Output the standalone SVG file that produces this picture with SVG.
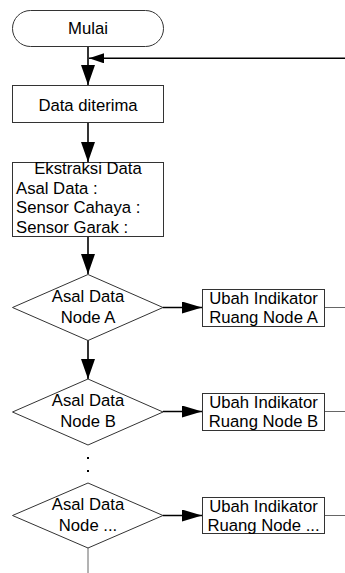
<svg xmlns="http://www.w3.org/2000/svg" width="345" height="573" viewBox="0 0 345 573">
<style>
.shape{fill:#fff;stroke:#333;stroke-width:1}
.t{font-family:"Liberation Sans",Arial,sans-serif;font-size:16.7px;fill:#000}
.c{text-anchor:middle}
.arr{stroke:#000;stroke-width:1.6;fill:none}
.gl{stroke:#666;stroke-width:1;fill:none}
</style>
<defs>
<marker id="ah" viewBox="0 0 20 14" refX="20" refY="7" markerWidth="20" markerHeight="14" markerUnits="userSpaceOnUse" orient="auto">
<path d="M0,0 L20,7 L0,14 z" fill="#000"/>
</marker>
<marker id="ah2" viewBox="0 0 20 12" refX="20" refY="6" markerWidth="20" markerHeight="12" markerUnits="userSpaceOnUse" orient="auto">
<path d="M0,0 L20,6 L0,12 z" fill="#000"/>
</marker>
<marker id="ah3" viewBox="0 0 15 10" refX="15" refY="5" markerWidth="15" markerHeight="10" markerUnits="userSpaceOnUse" orient="auto">
<path d="M0,0 L15,5 L0,10 z" fill="#000"/>
</marker>
</defs>
<g id="connectors">
<line class="arr" x1="88" y1="46.5" x2="88" y2="85" marker-end="url(#ah)"/>
<line class="arr" x1="345" y1="58.3" x2="89" y2="58.3" marker-end="url(#ah3)"/>
<line class="arr" x1="88" y1="122.5" x2="88" y2="162" marker-end="url(#ah)"/>
<line class="arr" x1="88" y1="236.5" x2="88" y2="274" marker-end="url(#ah)"/>
<line class="arr" x1="163" y1="307.5" x2="202" y2="307.5" marker-end="url(#ah2)"/>
<line class="gl" x1="324.5" y1="307.5" x2="345" y2="307.5"/>
<line class="arr" x1="88" y1="340" x2="88" y2="379" marker-end="url(#ah)"/>
<line class="arr" x1="163" y1="411.5" x2="202" y2="411.5" marker-end="url(#ah2)"/>
<line class="gl" x1="324.5" y1="411.5" x2="345" y2="411.5"/>
<line class="arr" x1="163" y1="515.5" x2="202" y2="515.5" marker-end="url(#ah2)"/>
<line class="gl" x1="324.5" y1="515.5" x2="345" y2="515.5"/>
<line class="gl" x1="88" y1="548" x2="88" y2="573"/>
<rect x="87" y="457" width="2" height="2" fill="#000"/>
<rect x="87" y="470" width="2" height="2" fill="#000"/>
</g>
<g id="mulai">
<rect class="shape" x="12.5" y="10.5" width="151" height="36" rx="18" ry="18"/>
<text class="t c" x="88" y="34">Mulai</text>
</g>
<g id="data-diterima">
<rect class="shape" x="12.5" y="85.5" width="151" height="37"/>
<text class="t c" x="88" y="111">Data diterima</text>
</g>
<g id="ekstraksi">
<rect class="shape" x="12.5" y="162.5" width="151" height="74"/>
<text class="t c" x="88" y="174">Ekstraksi Data</text>
<text class="t" x="16" y="193.5">Asal Data :</text>
<text class="t" x="16" y="213">Sensor Cahaya :</text>
<text class="t" x="16" y="232.5">Sensor Garak :</text>
</g>
<g id="dec-a">
<polygon class="shape" points="88,274.5 163,307.5 88,340.5 12.5,307.5"/>
<text class="t c" x="88" y="302">Asal Data</text>
<text class="t c" x="88" y="323">Node A</text>
</g>
<g id="ubah-a">
<rect class="shape" x="202.5" y="289.5" width="122" height="37"/>
<text class="t c" x="263.5" y="304">Ubah Indikator</text>
<text class="t c" x="263.5" y="323">Ruang Node A</text>
</g>
<g id="dec-b">
<polygon class="shape" points="88,379 163,412 88,445 12.5,412"/>
<text class="t c" x="88" y="406">Asal Data</text>
<text class="t c" x="88" y="427">Node B</text>
</g>
<g id="ubah-b">
<rect class="shape" x="202.5" y="393.5" width="122" height="37"/>
<text class="t c" x="263.5" y="408">Ubah Indikator</text>
<text class="t c" x="263.5" y="427">Ruang Node B</text>
</g>
<g id="dec-n">
<polygon class="shape" points="88,483 163,515.5 88,548 12.5,515.5"/>
<text class="t c" x="88" y="510">Asal Data</text>
<text class="t c" x="88" y="531">Node ...</text>
</g>
<g id="ubah-n">
<rect class="shape" x="202.5" y="497.5" width="122" height="36"/>
<text class="t c" x="263.5" y="512">Ubah Indikator</text>
<text class="t c" x="263.5" y="530.5">Ruang Node ...</text>
</g>
</svg>
